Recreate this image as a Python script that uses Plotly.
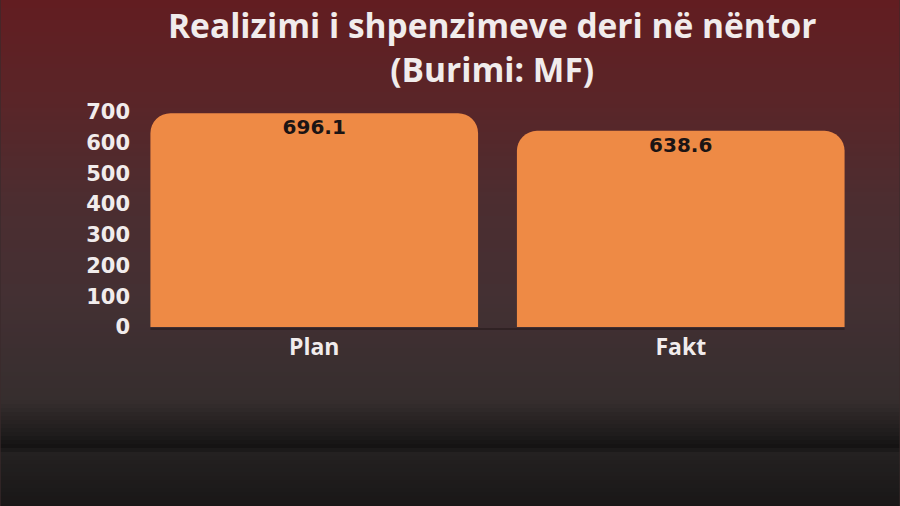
import plotly.graph_objects as go

categories = ["Plan", "Fakt"]
values = [696.1, 638.6]
value_labels = ["696.1", "638.6"]
tick_vals = [0, 100, 200, 300, 400, 500, 600, 700]
tick_text = ["0", "100", "200", "300", "400", "500", "600", "700"]
title_lines = ["Realizimi i shpenzimeve deri në nëntor", "(Burimi: MF)"]

W, H = 900, 506
L, R, T, B = 130.5, 900 - 864.5, 112, 506 - 327

fig = go.Figure()
fig.add_trace(go.Bar(
    x=categories, y=values,
    marker=dict(color="#ee8a45", line=dict(width=0)),
    hoverinfo="skip",
))
fig.add_trace(go.Scatter(
    x=categories, y=values, text=value_labels, mode="markers+text",
    marker=dict(size=8, opacity=0),
    textposition="bottom center",
    textfont=dict(family="DejaVu Sans", size=20, color="#1b1414", weight="bold"),
    hoverinfo="skip", cliponaxis=False,
))

pw = W - L - R
ph = H - T - B
def px2py(y):
    return (H - B - y) / ph
def px2px(x):
    return (x - L) / pw

stops = [(0, (0x62, 0x1d, 0x21)), (100, (0x5a, 0x25, 0x28)), (200, (0x4c, 0x2d, 0x30)),
         (300, (0x43, 0x30, 0x33)), (400, (0x36, 0x2e, 0x2e)), (435, (0x1e, 0x1b, 0x1b)),
         (448, (0x13, 0x12, 0x12)), (452, (0x24, 0x21, 0x21)), (506, (0x19, 0x17, 0x17))]
def col(y):
    for (y0, c0), (y1, c1) in zip(stops, stops[1:]):
        if y0 <= y <= y1:
            t = (y - y0) / (y1 - y0) if y1 > y0 else 0
            return "rgb(%d,%d,%d)" % tuple(round(a + (b - a) * t) for a, b in zip(c0, c1))
    return "rgb(25,23,23)"

shapes = []
step = 4
for y in range(0, H, step):
    shapes.append(dict(type="rect", xref="paper", yref="paper", layer="below",
                       x0=px2px(0), x1=px2px(W), y0=px2py(y + step), y1=px2py(y),
                       fillcolor=col(y + step / 2), line=dict(width=0)))
shapes.append(dict(type="line", xref="paper", yref="paper", layer="below",
                   x0=px2px(150), x1=px2px(845), y0=px2py(329), y1=px2py(329),
                   line=dict(color="rgba(30,20,20,0.45)", width=2)))

title_font = dict(family="Open Sans", size=33.5, color="#f1ecec", weight="bold")
annotations = [
    dict(text="<br>".join(title_lines), xref="paper", yref="paper",
         x=px2px(492), y=px2py(46.5), xanchor="center", yanchor="middle",
         showarrow=False, align="center", font=title_font),
]

fig.update_layout(
    width=W, height=H,
    margin=dict(l=L, r=R, t=T, b=B, pad=0),
    paper_bgcolor="#3a2a2b", plot_bgcolor="rgba(0,0,0,0)",
    bargap=0.106, barcornerradius=20,
    showlegend=False,
    shapes=shapes,
    annotations=annotations,
    xaxis=dict(showgrid=False, zeroline=False, showline=False, ticks="",
               tickfont=dict(family="Open Sans", size=23, color="#f1ecec", weight="bold"),
               ticklabelstandoff=4),
    yaxis=dict(range=[0, 700], tickvals=tick_vals, ticktext=tick_text,
               showgrid=False, zeroline=False, showline=False, ticks="",
               tickfont=dict(family="DejaVu Sans", size=21, color="#f1ecec", weight="bold"),
               ticklabelstandoff=0),
)

fig.write_html("out.html", config={"displayModeBar": False},
               post_script="document.body.style.margin='0';")
